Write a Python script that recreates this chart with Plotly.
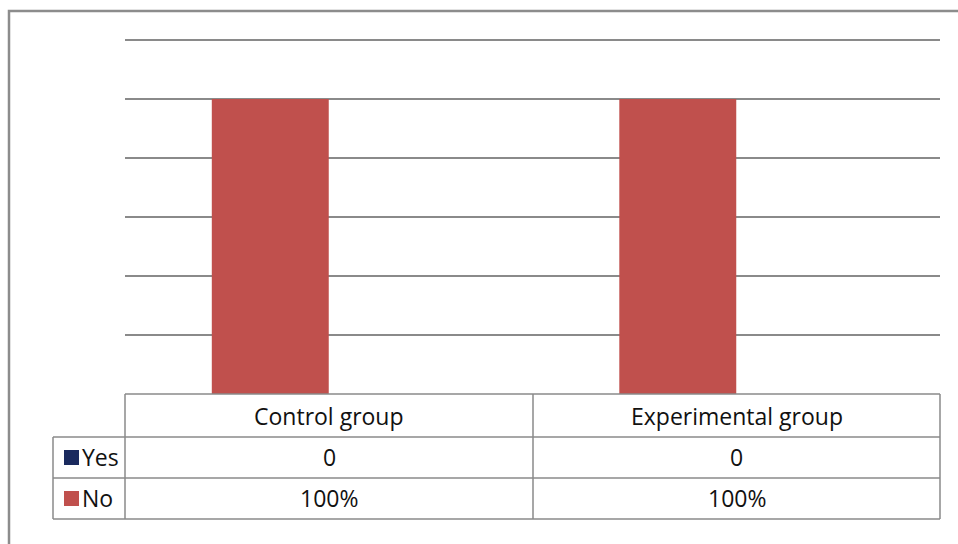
import plotly.graph_objects as go

categories = ["Control group", "Experimental group"]
series_names = ["Yes", "No"]
yes_values = [0, 0]
no_values = [100, 100]
yes_labels = ["0", "0"]
no_labels = ["100%", "100%"]
y_ticks = [0, 20, 40, 60, 80, 100, 120]

W, H = 958, 544
L, R, T, B = 125, 940, 36, 394  # plot area in pixels
pw, ph = R - L, B - T
y_top = 120 * ph / (B - 40)  # value 120 sits at pixel row 40

def px(x):
    return (x - L) / pw

def py(y):
    return (B - y) / ph

RED = "#C0504D"
NAVY = "#1A2A5E"
GRID = "#8A8A8A"
FONT = "Open Sans"

fig = go.Figure()
# No series drawn first so it sits on the left of each category group
fig.add_trace(go.Bar(x=categories, y=no_values, name=series_names[1],
                     marker=dict(color=RED, line=dict(width=0)), showlegend=False))
fig.add_trace(go.Bar(x=categories, y=yes_values, name=series_names[0],
                     marker=dict(color=NAVY, line=dict(width=0)), showlegend=False))

shapes = []
# outer frame
shapes.append(dict(type="rect", xref="paper", yref="paper",
                   x0=px(9), x1=px(975), y0=py(560), y1=py(11),
                   line=dict(color="#8C8C8C", width=2.5), layer="below"))
line = dict(color=GRID, width=1.5)
# table horizontal lines
shapes.append(dict(type="line", xref="paper", yref="paper", x0=px(125), x1=px(940), y0=py(394), y1=py(394), line=line))
for yy in [437, 478, 519]:
    shapes.append(dict(type="line", xref="paper", yref="paper", x0=px(53), x1=px(940), y0=py(yy), y1=py(yy), line=line))
# table vertical lines
for xx in [125, 533, 940]:
    shapes.append(dict(type="line", xref="paper", yref="paper", x0=px(xx), x1=px(xx), y0=py(394), y1=py(519), line=line))
shapes.append(dict(type="line", xref="paper", yref="paper", x0=px(53), x1=px(53), y0=py(437), y1=py(519), line=line))
# legend keys
for (y0, y1), col in zip([(450, 465), (491, 506)], [NAVY, RED]):
    shapes.append(dict(type="rect", xref="paper", yref="paper", x0=px(64), x1=px(79),
                       y0=py(y1), y1=py(y0), fillcolor=col, line=dict(width=0)))

annotations = []
col_centers = [(125 + 533) / 2, (533 + 940) / 2]
row_y = {"head": 416, "Yes": 457, "No": 498}
tf = dict(family=FONT, size=23, color="#111111")
for c, cx, yl, nl in zip(categories, col_centers, yes_labels, no_labels):
    annotations.append(dict(text=c, xref="paper", yref="paper", x=px(cx), y=py(row_y["head"]),
                            showarrow=False, font=tf, xanchor="center", yanchor="middle"))
    annotations.append(dict(text=yl, xref="paper", yref="paper", x=px(cx), y=py(row_y["Yes"]),
                            showarrow=False, font=tf, xanchor="center", yanchor="middle"))
    annotations.append(dict(text=nl, xref="paper", yref="paper", x=px(cx), y=py(row_y["No"]),
                            showarrow=False, font=tf, xanchor="center", yanchor="middle"))
for name in series_names:
    annotations.append(dict(text=name, xref="paper", yref="paper", x=px(80), y=py(row_y[name]),
                            showarrow=False, font=tf, xanchor="left", yanchor="middle"))

fig.update_layout(
    width=W, height=H,
    margin=dict(l=L, r=W - R, t=T, b=H - B),
    paper_bgcolor="white", plot_bgcolor="white",
    barmode="group", bargap=0.426, bargroupgap=0,
    xaxis=dict(showticklabels=False, showgrid=False, zeroline=False, showline=False, ticks=""),
    yaxis=dict(range=[0, y_top], tickvals=y_ticks, showticklabels=False, showgrid=True,
               gridcolor=GRID, gridwidth=1.5, zeroline=False, showline=False, ticks=""),
    shapes=shapes, annotations=annotations, showlegend=False,
)

fig.write_html("out.html")
